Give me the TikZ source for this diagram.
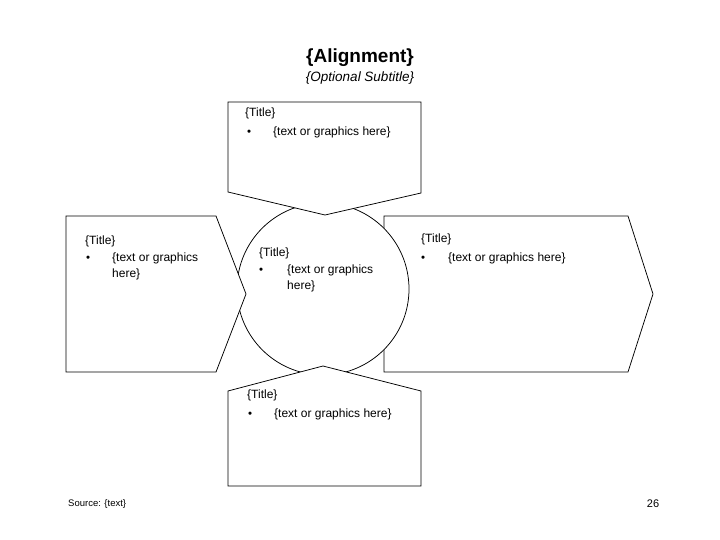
\documentclass[tikz,border=0pt]{standalone}
\usepackage{fontspec}
\setmainfont{Liberation Sans}
\begin{document}
\begin{tikzpicture}[x=1pt,y=-1pt,
  shapeline/.style={draw=black,line width=0.75pt,fill=white,line join=miter},
  body/.style={font=\fontsize{12}{14}\selectfont,inner sep=0pt,anchor=base west},
  bul/.style={font=\fontsize{11.5}{14}\selectfont,inner sep=0pt,anchor=base west}]
\useasboundingbox (0,0) rectangle (720,540);
% right box (behind circle)
\draw[shapeline] (384,216) -- (628,216) -- (653,294) -- (628,372) -- (384,372) -- cycle;
% circle
\draw[shapeline] (323,289) circle[radius=86];
% left chevron
\draw[shapeline] (66,216) -- (216,216) -- (246,294) -- (216,372) -- (66,372) -- cycle;
% top chevron
\draw[shapeline] (228,102) -- (421,102) -- (421,193) -- (325,215) -- (228,192) -- cycle;
% bottom chevron
\draw[shapeline] (228,486) -- (421,486) -- (421,391) -- (323,366) -- (228,391) -- cycle;
% headings
\node[inner sep=0pt,anchor=base,font=\fontsize{19}{22}\selectfont\bfseries] (head) at (360,63) {\{Alignment\}};
\node[inner sep=0pt,anchor=base,font=\fontsize{13.5}{15}\selectfont\itshape] (sub) at (360,82) {\{Optional Subtitle\}};
% top box text
\node[body] (tT) at (245,117) {\{Title\}};
\node[bul] (tB) at (247,136) {•};
\node[body] (tX) at (273,136) {\{text or graphics here\}};
% left box text
\node[body] (lT) at (85,244) {\{Title\}};
\node[bul] (lB) at (86,261) {•};
\node[body] (lX1) at (112,261) {\{text or graphics};
\node[body] (lX2) at (112,277) {here\}};
% circle text
\node[body] (cT) at (259,256) {\{Title\}};
\node[bul] (cB) at (259,273) {•};
\node[body] (cX1) at (287,273) {\{text or graphics};
\node[body] (cX2) at (287,289) {here\}};
% right box text
\node[body] (rT) at (421,243) {\{Title\}};
\node[bul] (rB) at (421,261) {•};
\node[body] (rX) at (448,261) {\{text or graphics here\}};
% bottom box text
\node[body] (bT) at (247,398) {\{Title\}};
\node[bul] (bB) at (248,417) {•};
\node[body] (bX) at (274,417) {\{text or graphics here\}};
% footer
\node[inner sep=0pt,anchor=base west,font=\fontsize{9.5}{11}\selectfont] (src) at (68,506) {Source: \{text\}};
\node[inner sep=0pt,anchor=base,font=\fontsize{11}{13}\selectfont] (pg) at (653,507) {26};
\end{tikzpicture}
\end{document}
